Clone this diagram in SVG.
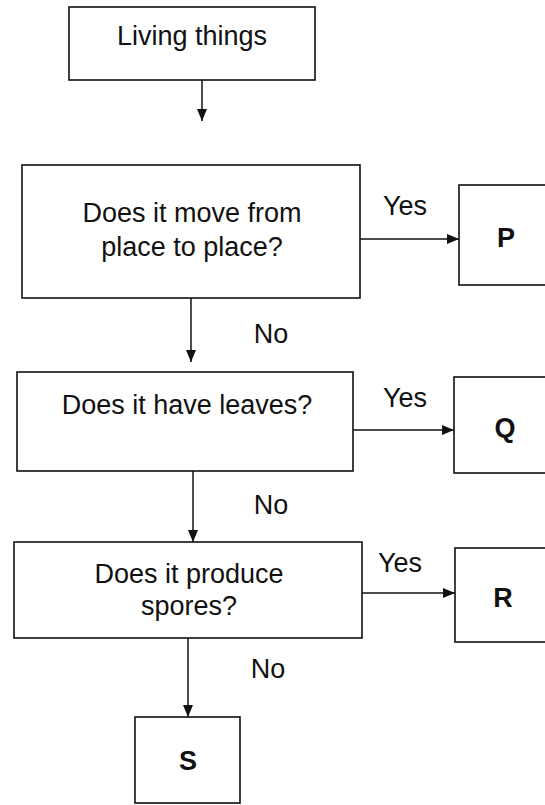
<svg xmlns="http://www.w3.org/2000/svg" width="545" height="805" viewBox="0 0 545 805">
<defs>
<style>
.box{fill:#fff;stroke:#111;stroke-width:1.6}
.t{font-family:"Liberation Sans",Arial,sans-serif;font-size:27px;fill:#111;text-anchor:middle}
.b{font-weight:bold}
.c{stroke:#111;stroke-width:1.5;fill:none;marker-end:url(#ah)}
</style>
<marker id="ah" viewBox="0 0 12 10" refX="12" refY="5" markerWidth="12" markerHeight="10" markerUnits="userSpaceOnUse" orient="auto">
<path d="M0,0 L12,5 L0,10 Z" fill="#111"/>
</marker>
</defs>
<rect width="545" height="805" fill="#fff"/>
<g id="connectors">
<line class="c" x1="202" y1="80" x2="202" y2="121"/>
<line class="c" x1="360" y1="239" x2="459" y2="239"/>
<line class="c" x1="191" y1="298" x2="191" y2="362"/>
<line class="c" x1="353" y1="430" x2="454" y2="430"/>
<line class="c" x1="193" y1="471" x2="193" y2="542"/>
<line class="c" x1="362" y1="593" x2="455" y2="593"/>
<line class="c" x1="188" y1="638" x2="188" y2="717"/>
<text class="t" x="405" y="215">Yes</text>
<text class="t" x="405" y="407">Yes</text>
<text class="t" x="400" y="572">Yes</text>
<text class="t" x="271" y="343">No</text>
<text class="t" x="271" y="514">No</text>
<text class="t" x="268" y="678">No</text>
</g>
<g id="living">
<rect class="box" x="69" y="7" width="246" height="73"/>
<text class="t" x="192" y="45">Living things</text>
</g>
<g id="q1">
<rect class="box" x="22" y="165" width="338" height="133"/>
<text class="t" x="192" y="222">Does it move from</text>
<text class="t" x="192" y="256">place to place?</text>
</g>
<g id="P">
<rect class="box" x="459" y="185" width="100" height="100"/>
<text class="t b" x="506" y="247">P</text>
</g>
<g id="q2">
<rect class="box" x="17" y="372" width="336" height="99"/>
<text class="t" x="187" y="414">Does it have leaves?</text>
</g>
<g id="Q">
<rect class="box" x="454" y="377" width="100" height="96"/>
<text class="t b" x="505" y="437">Q</text>
</g>
<g id="q3">
<rect class="box" x="14" y="542" width="348" height="96"/>
<text class="t" x="189" y="583">Does it produce</text>
<text class="t" x="189" y="615">spores?</text>
</g>
<g id="R">
<rect class="box" x="455" y="548" width="100" height="94"/>
<text class="t b" x="503" y="607">R</text>
</g>
<g id="S">
<rect class="box" x="135" y="717" width="105" height="86"/>
<text class="t b" x="188" y="770">S</text>
</g>
</svg>
